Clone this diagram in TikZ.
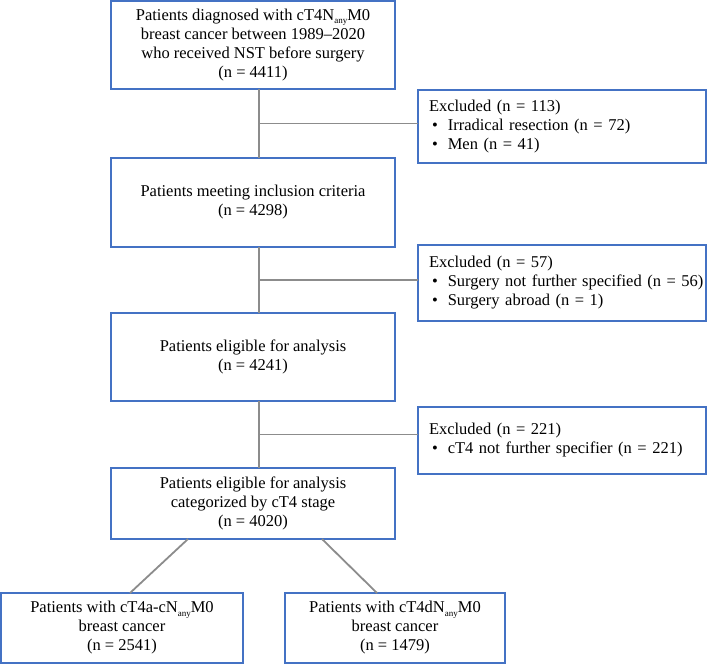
\documentclass[tikz,border=0pt]{standalone}
\usepackage{fontspec}
\setmainfont{Liberation Serif}
\usetikzlibrary{positioning,calc}
\definecolor{boxBlue}{HTML}{4472C4}
\definecolor{linkGray}{HTML}{8C8C8C}
\newcommand{\anysub}{\raisebox{-3.5pt}{\fontsize{9}{9}\selectfont any}}
\newcommand{\exitem}[1]{\mbox{\hspace*{3pt}\textbullet\hspace{10pt}#1}}
\tikzset{
  flowbox/.style={draw=boxBlue, line width=1.4pt, outer sep=0pt, inner sep=2pt,
    align=center, font=\fontsize{16.5}{19}\selectfont},
  mainbox/.style={flowbox, minimum width=284pt},
  exclbox/.style={flowbox, align=left, text width=266pt, inner xsep=11pt,
    minimum width=288pt},
  link/.style={draw=linkGray, line width=1.8pt}
}

\begin{document}
\begin{tikzpicture}[x=1pt, y=-1pt]
  \useasboundingbox (0,0) rectangle (707,665);

  \node[mainbox, minimum height=88pt] (all) at (253,45)
    {Patients diagnosed with cT4N\anysub M0\\breast cancer between 1989--2020\\who received NST before surgery\\(n = 4411)};
  \node[mainbox, minimum height=89pt, below=69pt of all] (incl)
    {Patients meeting inclusion criteria\\(n = 4298)};
  \node[mainbox, minimum height=88pt, below=66pt of incl] (elig)
    {Patients eligible for analysis\\(n = 4241)};
  \node[mainbox, minimum height=71pt, below=67pt of elig] (stage)
    {Patients eligible for analysis\\categorized by cT4 stage\\(n = 4020)};
  \node[flowbox, minimum width=242pt, minimum height=70pt, below=54pt of stage, xshift=-131pt] (tfour)
    {Patients with cT4a-cN\anysub M0\\breast cancer\\(n = 2541)};
  \node[flowbox, minimum width=220pt, minimum height=70pt, below=54pt of stage, xshift=142pt] (tfourd)
    {Patients with cT4dN\anysub M0\\breast cancer\\(n = 1479)};

  \node[exclbox, minimum height=73pt] (exa) at (562,126.5)
    {Excluded (n = 113)\\\exitem{Irradical resection (n = 72)}\\\exitem{Men (n = 41)}};
  \node[exclbox, minimum height=76pt] (exb) at (562,283)
    {Excluded (n = 57)\\\exitem{Surgery not further specified (n = 56)}\\\exitem{Surgery abroad (n = 1)}};
  \node[exclbox, minimum height=67pt] (exc) at (562,440.5)
    {Excluded (n = 221)\\\exitem{cT4 not further specifier (n = 221)}};

  % trunk of the flow, slightly right of the box centres
  \coordinate (ja) at ($([xshift=6pt]all.south)!.5!([xshift=6pt]incl.north)$);
  \coordinate (jb) at ($([xshift=6pt]incl.south)!.5!([xshift=6pt]elig.north)$);
  \coordinate (jc) at ($([xshift=6pt]elig.south)!.5!([xshift=6pt]stage.north)$);
  \draw[link] ([xshift=6pt]all.south) -- ([xshift=6pt]incl.north);
  \draw[link] ([xshift=6pt]incl.south) -- ([xshift=6pt]elig.north);
  \draw[link] ([xshift=6pt]elig.south) -- ([xshift=6pt]stage.north);
  \foreach \j/\e in {ja/exa,jb/exb,jc/exc}{
    \draw[link] (\j) -- (\e.west |- \j);
  }

  \draw[link] ([xshift=-65pt]stage.south) -- ([xshift=8pt]tfour.north);
  \draw[link] ([xshift=69pt]stage.south) -- ([xshift=-18pt]tfourd.north);
\end{tikzpicture}
\end{document}
